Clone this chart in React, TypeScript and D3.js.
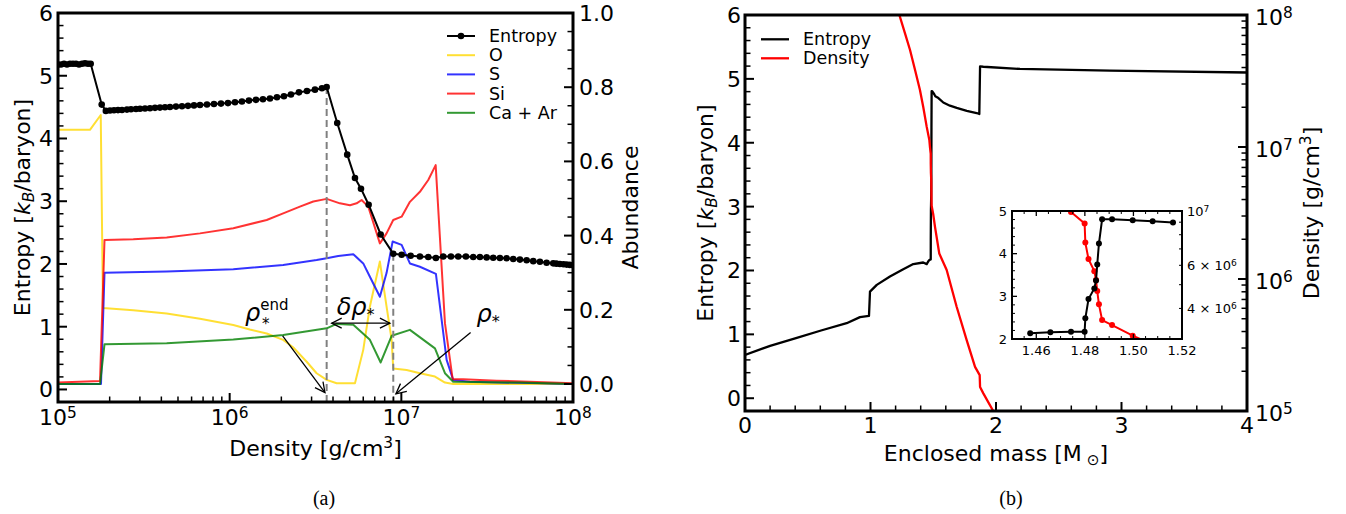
import React from 'react';
import * as d3 from 'd3';

type Pt = [number, number];

const FONT = "'DejaVu Sans', sans-serif";
const SERIF = "'Liberation Serif', 'DejaVu Serif', serif";

// ---------------- Panel (a): entropy & abundances vs density ----------------
const entropyA: Pt[] = [
  [1.0e5, 5.18], [1.041e5, 5.18], [1.084e5, 5.19], [1.128e5, 5.18], [1.175e5, 5.19], [1.223e5, 5.19],
  [1.273e5, 5.19], [1.326e5, 5.18], [1.38e5, 5.19], [1.436e5, 5.2], [1.495e5, 5.19], [1.55e5, 5.19],
  [1.797e5, 4.54], [1.9e5, 4.44],
  [2.009e5, 4.445], [2.12e5, 4.45], [2.236e5, 4.452], [2.359e5, 4.455], [2.522e5, 4.46], [2.662e5, 4.465],
  [2.847e5, 4.47], [3.004e5, 4.474], [3.212e5, 4.478], [3.435e5, 4.483], [3.673e5, 4.488], [3.927e5, 4.492],
  [4.2e5, 4.497], [4.49e5, 4.502], [4.868e5, 4.508], [5.276e5, 4.514], [5.717e5, 4.52], [6.197e5, 4.527],
  [6.714e5, 4.533], [7.376e5, 4.541], [8.1e5, 4.549], [8.9e5, 4.556], [9.774e5, 4.564], [1.074e6, 4.578],
  [1.179e6, 4.59], [1.295e6, 4.604], [1.423e6, 4.616], [1.563e6, 4.626], [1.717e6, 4.638], [1.886e6, 4.657],
  [2.071e6, 4.674], [2.275e6, 4.7], [2.533e6, 4.735], [2.82e6, 4.757], [3.14e6, 4.778], [3.449e6, 4.8],
  [3.673e6, 4.82],
  [4.233e6, 4.247], [4.84e6, 3.742], [5.37e6, 3.37], [5.82e6, 3.2], [6.45e6, 2.944], [7.58e6, 2.47],
  [8.975e6, 2.163],
  [1.004e7, 2.147], [1.133e7, 2.13], [1.283e7, 2.12], [1.435e7, 2.11], [1.59e7, 2.094], [1.754e7, 2.12],
  [1.945e7, 2.12], [2.145e7, 2.12], [2.378e7, 2.12], [2.623e7, 2.11], [2.87e7, 2.11], [3.14e7, 2.105],
  [3.43e7, 2.1], [3.752e7, 2.095], [4.105e7, 2.09], [4.485e7, 2.08], [4.907e7, 2.07], [5.37e7, 2.06],
  [5.866e7, 2.045], [6.417e7, 2.035], [7.02e7, 2.02], [7.668e7, 2.01], [8.0e7, 2.005], [8.39e7, 2.0],
  [8.8e7, 1.995], [9.18e7, 1.99], [9.6e7, 1.985], [1e8, 1.98],
];

const oxygenA: Pt[] = [
  [1e5, 0.685], [1.535e5, 0.685], [1.774e5, 0.725], [1.828e5, 0.205], [2.745e5, 0.199], [4.296e5, 0.19],
  [6.714e5, 0.176], [1.05e6, 0.159], [1.31e6, 0.147], [1.643e6, 0.136], [2.05e6, 0.119], [2.34e6, 0.099],
  [2.81e6, 0.06], [3.21e6, 0.029], [3.673e6, 0.011], [4.2e6, 0.002], [5.37e6, 0.002], [6.0e6, 0.092],
  [6.56e6, 0.209], [7.5e6, 0.33], [8.2e6, 0.209], [8.78e6, 0.119], [8.97e6, 0.042], [1.074e7, 0.038],
  [1.283e7, 0.029], [1.57e7, 0.02], [1.795e7, 0.004], [2.005e7, 0.0], [1e8, 0.0],
];

const sulfurA: Pt[] = [
  [1e5, 0.0], [1.78e5, 0.0], [1.866e5, 0.3], [4.296e5, 0.303], [1.05e6, 0.309], [2.05e6, 0.321],
  [3.21e6, 0.334], [3.673e6, 0.339], [4.29e6, 0.345], [5.25e6, 0.35], [6.0e6, 0.325], [6.56e6, 0.289],
  [7.5e6, 0.235], [8.2e6, 0.299], [8.9e6, 0.384], [1.004e7, 0.375], [1.122e7, 0.325], [1.283e7, 0.316],
  [1.59e7, 0.297], [1.836e7, 0.065], [2.005e7, 0.011], [2.51e7, 0.006], [1e8, 0.0],
];

const siliconA: Pt[] = [
  [1e5, 0.004], [1.757e5, 0.008], [1.866e5, 0.388], [2.745e5, 0.39], [4.296e5, 0.395], [6.714e5, 0.406],
  [1.05e6, 0.42], [1.643e6, 0.442], [2.05e6, 0.46], [2.565e6, 0.478], [3.07e6, 0.492], [3.673e6, 0.499],
  [4.387e6, 0.487], [5.02e6, 0.482], [5.49e6, 0.487], [5.87e6, 0.496], [6.42e6, 0.478], [7.5e6, 0.379],
  [8.2e6, 0.406], [8.97e6, 0.442], [1.004e7, 0.451], [1.122e7, 0.491], [1.283e7, 0.518], [1.435e7, 0.55],
  [1.585e7, 0.59], [1.795e7, 0.164], [1.99e7, 0.013], [2.294e7, 0.013], [3.59e7, 0.009], [1e8, 0.002],
];

const caArA: Pt[] = [
  [1e5, 0.0], [1.757e5, 0.0], [1.866e5, 0.107], [4.296e5, 0.11], [1.05e6, 0.12], [2.05e6, 0.132],
  [3.673e6, 0.15], [4.2e6, 0.162], [5.25e6, 0.16], [6.56e6, 0.119], [7.58e6, 0.058], [8.78e6, 0.13],
  [1.122e7, 0.146], [1.57e7, 0.096], [1.795e7, 0.029], [2.005e7, 0.006], [4.91e7, 0.004], [1e8, 0.0],
];

const legendLabelsA = ['Entropy', 'O', 'S', 'Si', 'Ca + Ar'];
const seriesColorsA = ['#000000', '#FFD700', '#0000FF', '#FF0000', '#008000'];
const entropyTicks = [0, 1, 2, 3, 4, 5, 6];
const abundanceTicks = [0, 0.2, 0.4, 0.6, 0.8, 1.0];
const abundanceTickLabels = ['0.0', '0.2', '0.4', '0.6', '0.8', '1.0'];
const decadesA = [5, 6, 7, 8];
// dashed guide lines: [density, entropy at top]
const guideLinesA: Pt[] = [[3.673e6, 4.82], [8.975e6, 2.163]];
// annotations in data coords (density, entropy)
const annotEnd = { text: [1.23e6, 1.094] as Pt, tail: [2.035e6, 0.855] as Pt, head: [3.59e6, -0.05] as Pt };
const annotDelta = { text: [4.2e6, 1.19] as Pt, tail: [3.93e6, 1.057] as Pt, head: [8.58e6, 1.057] as Pt };
const annotStar = { text: [2.745e7, 1.08] as Pt, tail: [2.533e7, 0.907] as Pt, head: [9.3e6, -0.07] as Pt };

// ---------------- Panel (b): entropy & density vs enclosed mass ----------------
const entropyB: Pt[] = [
  [0, 0.678], [0.2, 0.82], [0.406, 0.94], [0.606, 1.06], [0.81, 1.175], [0.916, 1.27], [0.988, 1.29],
  [0.996, 1.67], [1.05, 1.775], [1.155, 1.905], [1.261, 2.02], [1.341, 2.1], [1.42, 2.125], [1.448, 2.1],
  [1.4575, 2.133], [1.4658, 2.157], [1.4743, 2.171], [1.4799, 2.171], [1.4802, 2.484], [1.4815, 2.935],
  [1.4839, 3.186], [1.4846, 3.37], [1.4851, 3.747], [1.4858, 4.238], [1.4871, 4.806], [1.4912, 4.806],
  [1.4997, 4.783], [1.5079, 4.759], [1.5163, 4.729], [1.541, 4.7], [1.58, 4.63], [1.633, 4.58],
  [1.687, 4.545], [1.767, 4.5], [1.846, 4.465], [1.867, 4.45], [1.873, 5.195], [1.899, 5.19],
  [2.191, 5.155], [2.908, 5.13], [4.0, 5.1],
];

const densityB: Pt[] = [
  [1.23, 1e8], [1.275, 7.26e7], [1.315, 5.43e7], [1.355, 3.83e7], [1.394, 2.7e7], [1.42, 2.02e7],
  [1.448, 1.42e7], [1.469, 1.127e7], [1.4743, 9.9e6], [1.4799, 8.89e6], [1.4802, 7.43e6], [1.4815, 6.36e6],
  [1.4839, 5.68e6], [1.4846, 5.22e6], [1.4851, 4.71e6], [1.4858, 4.155e6], [1.4871, 3.586e6],
  [1.4912, 3.42e6], [1.4997, 3.094e6], [1.514, 2.48e6], [1.548, 1.56e6], [1.607, 1.17e6], [1.687, 6.14e5],
  [1.767, 3.43e5], [1.833, 2.16e5], [1.87, 1.87e5], [1.873, 1.52e5], [1.899, 1.36e5], [1.978, 1e5],
];

// inset zoom on the shock region
const insetEntropy: Pt[] = [
  [1.4575, 2.133], [1.4658, 2.157], [1.4743, 2.171], [1.4799, 2.171], [1.4802, 2.484], [1.4815, 2.935],
  [1.4839, 3.186], [1.4846, 3.37], [1.4851, 3.747], [1.4858, 4.238], [1.4871, 4.806], [1.4912, 4.806],
  [1.4997, 4.783], [1.5079, 4.759], [1.5163, 4.729],
];
const insetDensity: Pt[] = [
  [1.4743, 9.9e6], [1.4799, 8.89e6], [1.4802, 7.43e6], [1.4815, 6.36e6], [1.4839, 5.68e6], [1.4846, 5.22e6],
  [1.4851, 4.71e6], [1.4858, 4.155e6], [1.4871, 3.586e6], [1.4912, 3.42e6], [1.4997, 3.094e6], [1.5079, 2.85e6],
];
const legendLabelsB = ['Entropy', 'Density'];
const massTicks = [0, 1, 2, 3, 4];
const insetMassTicks = [1.46, 1.48, 1.5, 1.52];
const insetEntropyTicks = [2, 3, 4, 5];

// ---------------- helpers ----------------
function arrowHead(x1: number, y1: number, x2: number, y2: number, len = 10, half = 5) {
  const dx = x2 - x1, dy = y2 - y1;
  const L = Math.hypot(dx, dy);
  const ux = dx / L, uy = dy / L;
  const bx = x2 - ux * len, by = y2 - uy * len;
  return `M${bx - uy * half},${by + ux * half}L${x2},${y2}L${bx + uy * half},${by - ux * half}`;
}

function range(a: number, b: number, step: number) {
  const out: number[] = [];
  for (let v = a; v <= b + 1e-9; v += step) out.push(Math.round(v * 1e6) / 1e6);
  return out;
}

function Pow10({ e, fs }: { e: number; fs: number }) {
  return (
    <>
      <tspan>10</tspan>
      <tspan fontSize={fs * 0.7} dy={-fs * 0.33}>{e}</tspan>
    </>
  );
}

export default function App() {
  // ---- scales panel (a)
  const xA = d3.scaleLog().domain([1e5, 1e8]).range([58, 573]);
  const yA = d3.scaleLinear().domain([-0.2, 6]).range([402, 13]);
  const yAb = d3.scaleLinear().domain([-0.0485, 1]).range([402, 13]);
  const lineAb = d3.line<Pt>().x(d => xA(d[0])).y(d => yAb(d[1]));
  const lineAe = d3.line<Pt>().x(d => xA(d[0])).y(d => yA(d[1]));

  // ---- scales panel (b)
  const xB = d3.scaleLinear().domain([0, 4]).range([745, 1247]);
  const yB = d3.scaleLinear().domain([-0.2, 6]).range([411, 15]);
  const yBd = d3.scaleLog().domain([1e5, 1e8]).range([411, 15]);
  const lineBe = d3.line<Pt>().x(d => xB(d[0])).y(d => yB(d[1]));
  const lineBd = d3.line<Pt>().x(d => xB(d[0])).y(d => yBd(d[1]));

  // ---- inset scales
  const xI = d3.scaleLinear().domain([1.45, 1.52]).range([1012, 1182]);
  const yI = d3.scaleLinear().domain([2, 5]).range([339, 211]);
  const yId = d3.scaleLog().domain([3e6, 1e7]).range([339, 211]);
  const lineIe = d3.line<Pt>().x(d => xI(d[0])).y(d => yI(d[1]));
  const lineId = d3.line<Pt>().x(d => xI(d[0])).y(d => yId(d[1]));

  const FS = 22;
  const ticks: React.ReactNode[] = [];
  const labels: React.ReactNode[] = [];
  let k = 0;
  const tk = (x1: number, y1: number, x2: number, y2: number, w: number) =>
    ticks.push(<line key={'t' + k++} x1={x1} y1={y1} x2={x2} y2={y2} stroke="#000" strokeWidth={w} />);

  // ===== panel (a) ticks
  const aL = 58, aR = 573, aT = 13, aB = 402;
  entropyTicks.forEach(v => {
    tk(aL, yA(v), aL + 9, yA(v), 2);
    labels.push(<text key={'la' + v} x={aL - 5} y={yA(v) + 8} fontSize={FS} textAnchor="end">{v}</text>);
  });
  range(-0.2, 6, 0.2).filter(v => Math.abs(v - Math.round(v)) > 1e-6 && v > -0.1).forEach(v => tk(aL, yA(v), aL + 5.5, yA(v), 1.5));
  abundanceTicks.forEach((v, i) => {
    tk(aR, yAb(v), aR - 9, yAb(v), 2);
    labels.push(<text key={'ra' + i} x={aR + 6} y={yAb(v) + 8} fontSize={FS} textAnchor="start">{abundanceTickLabels[i]}</text>);
  });
  range(0, 1, 0.05).filter(v => Math.abs(v * 5 - Math.round(v * 5)) > 1e-6).forEach(v => tk(aR, yAb(v), aR - 5.5, yAb(v), 1.5));
  decadesA.forEach(e => {
    const x = xA(Math.pow(10, e));
    tk(x, aB, x, aB - 9, 2);
    labels.push(<text key={'ba' + e} x={x} y={aB + 23} fontSize={FS} textAnchor="middle"><Pow10 e={e} fs={FS} /></text>);
    if (e < 8) for (let m = 2; m <= 9; m++) { const xm = xA(m * Math.pow(10, e)); tk(xm, aB, xm, aB - 5.5, 1.5); }
  });

  // ===== panel (b) ticks
  const bL = 745, bR = 1247, bT = 15, bBt = 411;
  entropyTicks.forEach(v => {
    tk(bL, yB(v), bL + 9, yB(v), 2);
    labels.push(<text key={'lb' + v} x={bL - 4} y={yB(v) + 8} fontSize={FS} textAnchor="end">{v}</text>);
  });
  range(-0.2, 6, 0.2).filter(v => Math.abs(v - Math.round(v)) > 1e-6 && v > -0.1).forEach(v => tk(bL, yB(v), bL + 5.5, yB(v), 1.5));
  massTicks.forEach(v => {
    tk(xB(v), bBt, xB(v), bBt - 9, 2);
    labels.push(<text key={'bb' + v} x={xB(v)} y={bBt + 22} fontSize={FS} textAnchor="middle">{v}</text>);
  });
  range(0, 4, 0.2).filter(v => Math.abs(v - Math.round(v)) > 1e-6).forEach(v => tk(xB(v), bBt, xB(v), bBt - 5.5, 1.5));
  decadesA.forEach(e => {
    const y = yBd(Math.pow(10, e));
    tk(bR, y, bR - 9, y, 2);
    labels.push(<text key={'rb' + e} x={bR + 8} y={y + 10} fontSize={FS} textAnchor="start"><Pow10 e={e} fs={FS} /></text>);
    if (e < 8) for (let m = 2; m <= 9; m++) { const ym = yBd(m * Math.pow(10, e)); tk(bR, ym, bR - 5.5, ym, 1.5); }
  });

  // ===== inset ticks
  const iL = 1012, iR = 1182, iT = 211, iB = 339;
  const IFS = 13;
  insetEntropyTicks.forEach(v => {
    tk(iL, yI(v), iL + 5, yI(v), 1.3);
    labels.push(<text key={'li' + v} x={iL - 5} y={yI(v) + 4.7} fontSize={IFS} textAnchor="end">{v}</text>);
  });
  range(2, 5, 0.2).filter(v => Math.abs(v - Math.round(v)) > 1e-6).forEach(v => tk(iL, yI(v), iL + 3, yI(v), 1));
  insetMassTicks.forEach(v => {
    tk(xI(v), iB, xI(v), iB - 5, 1.3);
    tk(xI(v), iT, xI(v), iT + 5, 1.3);
    labels.push(<text key={'bi' + v} x={xI(v)} y={iB + 16} fontSize={IFS} textAnchor="middle">{v.toFixed(2)}</text>);
  });
  range(1.45, 1.52, 0.005).filter(v => Math.abs(v * 50 - Math.round(v * 50)) > 1e-6 && v > 1.451).forEach(v => {
    tk(xI(v), iB, xI(v), iB - 3, 1);
    tk(xI(v), iT, xI(v), iT + 3, 1);
  });
  tk(iR, yId(1e7), iR - 5, yId(1e7), 1.3);
  labels.push(<text key="ri7" x={iR + 5} y={yId(1e7) + 5} fontSize={IFS}><Pow10 e={7} fs={IFS} /></text>);
  [3, 4, 5, 6, 7, 8, 9].forEach(m => {
    const y = yId(m * 1e6);
    tk(iR, y, iR - 3, y, 1);
    if (m === 4 || m === 6) labels.push(
      <text key={'rim' + m} x={iR + 5} y={y + 5} fontSize={IFS}>
        <tspan>{m} × 10</tspan><tspan fontSize={IFS * 0.7} dy={-IFS * 0.35}>6</tspan>
      </text>
    );
  });

  // ===== panel (a) marks
  const seriesA = [oxygenA, sulfurA, siliconA, caArA];

  const endT = [xA(annotEnd.text[0]), yA(annotEnd.text[1])];
  const endTail = [xA(annotEnd.tail[0]), yA(annotEnd.tail[1])];
  const endHead = [xA(annotEnd.head[0]), yA(annotEnd.head[1])];
  const dT = [xA(annotDelta.text[0]), yA(annotDelta.text[1])];
  const dTail = [xA(annotDelta.tail[0]), yA(annotDelta.tail[1])];
  const dHead = [xA(annotDelta.head[0]), yA(annotDelta.head[1])];
  const sT = [xA(annotStar.text[0]), yA(annotStar.text[1])];
  const sTail = [xA(annotStar.tail[0]), yA(annotStar.tail[1])];
  const sHead = [xA(annotStar.head[0]), yA(annotStar.head[1])];

  return (
    <svg width={1346} height={514} style={{ position: 'absolute', left: 0, top: 0, background: '#fff' }}
      fontFamily={FONT}>
      <defs>
        <clipPath id="clipA"><rect x={aL} y={aT} width={aR - aL} height={aB - aT} /></clipPath>
        <clipPath id="clipB"><rect x={bL} y={bT} width={bR - bL} height={bBt - bT} /></clipPath>
        <clipPath id="clipI"><rect x={iL} y={iT} width={iR - iL} height={iB - iT} /></clipPath>
      </defs>
      <rect x={0} y={0} width={1346} height={514} fill="#fff" />

      {/* ---------- panel (a) ---------- */}
      <g clipPath="url(#clipA)">
        {seriesA.map((s, i) => (
          <path key={'sa' + i} d={lineAb(s) || ''} fill="none" stroke={seriesColorsA[i + 1]} strokeOpacity={0.8}
            strokeWidth={2} strokeLinejoin="round" />
        ))}
        {guideLinesA.map((g, i) => (
          <line key={'g' + i} x1={xA(g[0])} x2={xA(g[0])} y1={yA(g[1])} y2={aB} stroke="#808080" strokeWidth={2}
            strokeDasharray="7,4" />
        ))}
        <path d={lineAe(entropyA) || ''} fill="none" stroke="#000" strokeWidth={2} />
        {entropyA.map((d, i) => <circle key={'ea' + i} cx={xA(d[0])} cy={yA(d[1])} r={3.3} fill="#000" />)}
      </g>
      {/* annotations */}
      <g stroke="#000" strokeWidth={1.3} fill="none">
        <line x1={endTail[0]} y1={endTail[1]} x2={endHead[0]} y2={endHead[1]} />
        <path d={arrowHead(endTail[0], endTail[1], endHead[0], endHead[1])} />
        <line x1={dTail[0]} y1={dTail[1]} x2={dHead[0]} y2={dHead[1]} />
        <path d={arrowHead(dTail[0], dTail[1], dHead[0], dHead[1])} />
        <path d={arrowHead(dHead[0], dHead[1], dTail[0], dTail[1])} />
        <line x1={sTail[0]} y1={sTail[1]} x2={sHead[0]} y2={sHead[1]} />
        <path d={arrowHead(sTail[0], sTail[1], sHead[0], sHead[1])} />
      </g>
      <g fontSize={24}>
        <text x={endT[0]} y={endT[1]}>
          <tspan fontStyle="italic">ρ</tspan>
          <tspan fontSize={15} dy={-10.5}>end</tspan>
        </text>
        <text x={endT[0] + 17} y={endT[1] + 8} fontSize={15}>*</text>
        <text x={dT[0]} y={dT[1]}><tspan fontStyle="italic">δρ</tspan><tspan fontSize={16} dy={5}>*</tspan></text>
        <text x={sT[0]} y={sT[1]}><tspan fontStyle="italic">ρ</tspan><tspan fontSize={16} dy={5}>*</tspan></text>
      </g>
      <rect x={aL} y={aT} width={aR - aL} height={aB - aT} fill="none" stroke="#000" strokeWidth={3} />

      {/* legend (a) */}
      <g fontSize={17.5}>
        {legendLabelsA.map((lab, i) => {
          const y = 36 + i * 19.2;
          return (
            <g key={'lgA' + i}>
              <line x1={447} x2={475} y1={y} y2={y} stroke={seriesColorsA[i]} strokeWidth={2}
                strokeOpacity={i === 0 ? 1 : 0.8} />
              {i === 0 && <circle cx={461} cy={y} r={3.3} fill="#000" />}
              <text x={489} y={y + 6}>{lab}</text>
            </g>
          );
        })}
      </g>

      {/* axis labels (a) */}
      <text transform={`translate(30,${(aT + aB) / 2}) rotate(-90)`} fontSize={FS} textAnchor="middle">
        Entropy [<tspan fontStyle="italic">k</tspan><tspan fontStyle="italic" fontSize={FS * 0.7} dy={4}>B</tspan><tspan dy={-4}>/baryon]</tspan>
      </text>
      <text transform={`translate(638,${(aT + aB) / 2}) rotate(-90)`} fontSize={FS} textAnchor="middle">Abundance</text>
      <text x={(aL + aR) / 2} y={456} fontSize={FS} textAnchor="middle">
        Density [g/cm<tspan fontSize={FS * 0.7} dy={-8}>3</tspan><tspan dy={8}>]</tspan>
      </text>
      <text x={324} y={505} fontSize={20} fontFamily={SERIF} textAnchor="middle">(a)</text>

      {/* ---------- panel (b) ---------- */}
      <g clipPath="url(#clipB)">
        <path d={lineBe(entropyB) || ''} fill="none" stroke="#000" strokeWidth={2.3} strokeLinejoin="round" />
        <path d={lineBd(densityB) || ''} fill="none" stroke="#FF0000" strokeWidth={2.3} strokeLinejoin="round" />
      </g>
      <rect x={bL} y={bT} width={bR - bL} height={bBt - bT} fill="none" stroke="#000" strokeWidth={3} />
      <g fontSize={17.5}>
        {legendLabelsB.map((lab, i) => {
          const y = 39.3 + i * 19;
          return (
            <g key={'lgB' + i}>
              <line x1={761} x2={789} y1={y} y2={y} stroke={i === 0 ? '#000' : '#FF0000'} strokeWidth={2.3} />
              <text x={803} y={y + 6}>{lab}</text>
            </g>
          );
        })}
      </g>
      <text transform={`translate(713,${(bT + bBt) / 2}) rotate(-90)`} fontSize={FS} textAnchor="middle">
        Entropy [<tspan fontStyle="italic">k</tspan><tspan fontStyle="italic" fontSize={FS * 0.7} dy={4}>B</tspan><tspan dy={-4}>/baryon]</tspan>
      </text>
      <text transform={`translate(1319,${(bT + bBt) / 2}) rotate(-90)`} fontSize={FS} textAnchor="middle">
        Density [g/cm<tspan fontSize={FS * 0.7} dy={-8}>3</tspan><tspan dy={8}>]</tspan>
      </text>
      <text x={(bL + bR) / 2} y={461} fontSize={FS} textAnchor="middle">
        Enclosed mass [M<tspan fontSize={FS * 0.7} dy={4}> ⊙</tspan><tspan dy={-4}>]</tspan>
      </text>
      <text x={1011} y={505} fontSize={20} fontFamily={SERIF} textAnchor="middle">(b)</text>

      {/* ---------- inset ---------- */}
      <rect x={iL} y={iT} width={iR - iL} height={iB - iT} fill="#fff" />
      <g clipPath="url(#clipI)">
        <path d={lineId(insetDensity) || ''} fill="none" stroke="#FF0000" strokeWidth={2} />
        {insetDensity.map((d, i) => <circle key={'id' + i} cx={xI(d[0])} cy={yId(d[1])} r={3} fill="#FF0000" />)}
        <path d={lineIe(insetEntropy) || ''} fill="none" stroke="#000" strokeWidth={2} />
        {insetEntropy.map((d, i) => <circle key={'ie' + i} cx={xI(d[0])} cy={yI(d[1])} r={3} fill="#000" />)}
      </g>
      <rect x={iL} y={iT} width={iR - iL} height={iB - iT} fill="none" stroke="#000" strokeWidth={2} />

      {ticks}
      <g fill="#000">{labels}</g>
    </svg>
  );
}
